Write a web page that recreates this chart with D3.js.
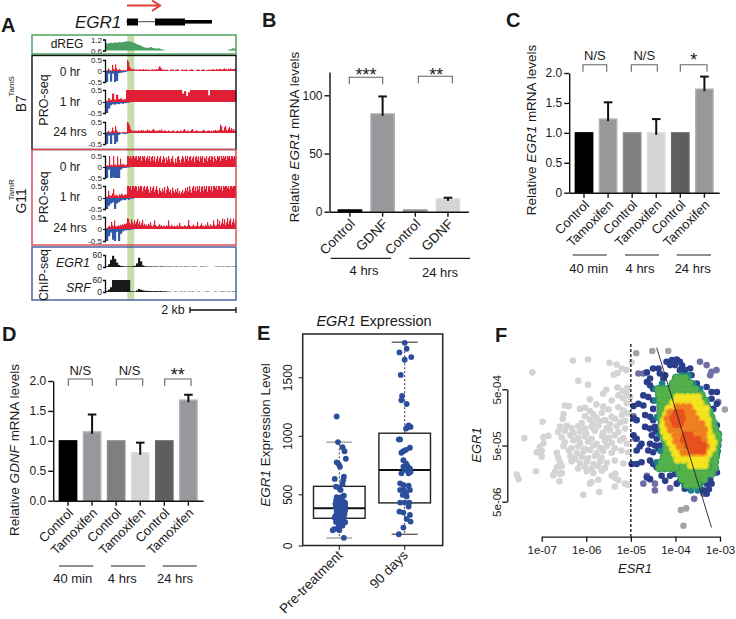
<!DOCTYPE html>
<html>
<head>
<meta charset="utf-8">
<script src="https://cdn.jsdelivr.net/npm/d3@7"></script>
<style>
  body { margin: 0; background: #fff; }
  text { font-family: "Liberation Sans", Arial, sans-serif; fill: #1a1a1a; }
  .axis path, .axis line { stroke: #111; }
</style>
</head>
<body>
<svg id="fig" width="736" height="619"></svg>
<script>
// ---- panel A tracks, one value per genomic bin ----
const b7Hr0 = [.02,.05,.12,.04,.03,.02,.28,.1,.05,.3,
  .12,.06,.04,.1,.05,.03,.02,.06,.02,.04,
  .03,.5,.42,.2,.12,.08,.1,.06,.08,.05,
  .07,.04,.06,.08,.05,.07,.06,.09,.05,.06,
  .08,.04,.07,.05,.03,.06,.08,.05,.07,.06,
  .09,.06,.12,.22,.16,.1,.07,.05,.06,.04,
  .07,.05,.02,0,.06,.08,.05,.07,0,.05,
  .06,.08,.05,0,0,.06,.07,.04,.06,.05,
  .07,.04,0,.06,.05,.08,.06,.04,0,0,
  .05,.07,.06,.05,0,.04,.06,.08,.05,0,
  .05,.04,.07,.03,.06,.05,.08,.07,.06,.05,
  .09,.06,.07,.1,.08,.07,.06,.09,.12,.07,
  .08,.06,.1,.07,.12,.08,.09,.07,.1,.08];
const b7Hr1 = [.05,.15,.08,.35,.1,.3,.12,.15,.1,.12,
  .5,.5,.5,.5,.5,.5,.5,.5,.5,.5,
  .5,.5,.5,.5,.5,.5,.5,.5,.5,.5,
  .5,.5,.5,.5,.5,.5,.5,.5,.35,.45,
  .25,.4,.5,.5,.5,.5,.5,.5,.5,.5,
  .5,.28,.5,.5,.5,.5,.5,.5,.5,.5,
  .5,.5,.5,.5,.5];
const b7Hr24 = [.03,.05,.1,.04,.03,.08,.25,.1,.06,.32,
  .14,.06,.03,.05,.02,.02,.03,.06,.02,.03,
  .04,.5,.45,.35,.18,.12,.1,.08,.12,.09,
  .1,.08,.12,.1,.09,.14,.1,.12,.08,.1,
  .11,.16,.1,.12,.09,.1,.14,.18,.11,.1,
  .09,.12,.08,.14,.1,.16,.1,.08,.12,.1,
  .09,.07,.11,.09,.06,.08,.1,.12,.07,.05,
  .09,.11,.08,.06,.12,.09,.07,.13,.18,.1,
  .07,.12,.09,.06,.1,.14,.18,.09,.07,.1,
  .12,.08,.1,.07,.09,.06,.12,.14,.1,.09,
  .07,.1,.12,.09,.08,.11,.06,.12,.1,.14,
  .09,.12,.1,.16,.38,.3,.14,.1,.26,.32,
  .14,.1,.2,.28,.14,.22,.12,.18,.1,.14];
const g11Hr0 = [.05,.08,.06,.5,.08,.1,.07,.5,.1,.12,
  .06,.48,.12,.08,.38,.1,.14,.12,.1,.08,
  .12,.5,.5,.42,.5,.38,.5,.5,.4,.48,
  .5,.32,.5,.44,.5,.28,.5,.45,.5,.3,
  .42,.5,.36,.5,.26,.45,.5,.3,.48,.22,
  .38,.5,.28,.42,.5,.2,.34,.5,.4,.18,
  .44,.3,.5,.36,.22,.4,.5,.25,.16,.38,
  .2,.46,.5,.32,.18,.36,.5,.42,.24,.5,
  .36,.5,.28,.46,.5,.3,.42,.5,.22,.44,
  .5,.34,.48,.26,.5,.4,.5,.2,.44,.36,
  .5,.26,.42,.5,.32,.5,.46,.24,.5,.38,
  .3,.5,.44,.5,.28,.5,.38,.5,.42,.5,
  .32,.5,.46,.5,.36,.5,.5,.4,.5,.46];
const g11Hr1 = [.05,.06,.3,.12,.08,.1,.2,.38,.12,.1,
  .14,.1,.08,.16,.12,.18,.14,.1,.12,.16,
  .14,.5,.5,.46,.5,.34,.5,.5,.42,.5,
  .48,.3,.5,.4,.5,.5,.28,.44,.5,.34,
  .46,.5,.36,.22,.48,.3,.42,.5,.26,.36,
  .5,.34,.18,.42,.3,.24,.4,.28,.46,.2,
  .34,.5,.4,.26,.34,.18,.44,.3,.22,.36,
  .26,.42,.2,.3,.16,.24,.34,.2,.28,.42,
  .3,.46,.26,.5,.34,.22,.44,.5,.3,.48,
  .28,.5,.36,.5,.24,.46,.5,.3,.5,.38,
  .5,.26,.48,.5,.34,.5,.28,.5,.5,.42,
  .5,.34,.5,.5,.4,.5,.3,.5,.46,.5,
  .5,.42,.5,.36,.5,.5,.44,.5,.5,.5];
const g11Hr24 = [.04,.06,.1,.14,.08,.3,.16,.1,.36,.14,
  .1,.12,.16,.12,.18,.14,.2,.16,.22,.2,
  .24,.45,.42,.26,.2,.4,.28,.18,.36,.22,
  .3,.42,.2,.32,.16,.24,.38,.16,.22,.14,
  .18,.12,.22,.16,.28,.14,.1,.18,.36,.16,
  .12,.1,.14,.2,.12,.16,.1,.14,.12,.1,
  .16,.12,.36,.14,.1,.18,.12,.1,.14,.1,
  .12,.16,.1,.26,.14,.1,.12,.1,.16,.12,
  .1,.14,.38,.16,.12,.1,.14,.18,.1,.12,
  .14,.3,.12,.1,.16,.24,.12,.14,.1,.18,
  .12,.28,.16,.1,.2,.12,.14,.36,.18,.12,
  .16,.42,.2,.34,.14,.24,.44,.22,.4,.16,
  .28,.46,.2,.36,.44,.18,.3,.42,.24,.38];
const b7Neg0 = [.5,.12,.48,.12,.5,.45,.1,.08,.06,.05,.02];
const b7Neg1 = [.5,.3,.15,.1,.12,.08,.1,.06,.08,.05,.04,.03];
const b7Neg24 = [.5,.12,.5,.1,.5,.4,.08,.03,.03,.05,.03];
const g11Neg0 = [.5,.12,.5,.48,.5,.5,.5,.12,.05,.04,.03,.02];
const g11Neg1 = [.5,.35,.25,.2,.5,.25,.18,.12,.08,.1,.05,.08,.03,.03];
const g11Neg24 = [.5,.3,.15,.45,.5,.12,.5,.2,.1,.06,.05,.04,.03,.02];
const dregValues = [.98,1.0,1.02,1.0,1.04,1.03,1.05,1.04,1.06,1.08,
  1.1,1.1,1.07,1.04,1.0,.94,.9,.86,.8,.76,
  .74,.76,.78,.74,.72,.7,.72,.68,.64,.61,
  .6,.6,.6,.6,.6,.6,.6,.6,.6,.6,
  .6,.6,.6,.6,.6,.6,.6,.6,.6,.6,
  .6,.6,.6,.6,.6,.6,.6,.6,.6,.6,
  .6,.64,.68,.72,.7];
const chipEgr1 = [4,14,36,56,40,22,10,5,4,3,
  3,3,3,4,6,18,46,28,8,4,
  3,3,3,2,3,2,2,3,2,2,
  2,2,2,1,2,2,1,2,1,2,
  2,1,1,2,2,1,0,2,2,1,
  1,0,0,0,1,2,2,1,2,1,
  2,2,1,2,2];
const chipSrf = [6,12,24,60,60,60,60,60,60,60,
  60,60,4,3,3,8,15,11,8,6,
  6,5,5,4,5,4,4,5,3,4,
  2,2,1,0,2,1,0,2,1,2,
  0,2,1,2,0,1,2,0,0,1,
  2,1,0,0,2,1,0,2,2,1,
  1,2,1,2,2];
const trackTicks = [0.5, 0, -0.5];
const timeLabels = ["0 hr", "1 hr", "24 hrs"];

// ---- panels B, C, D ----
const catsB = ["Control", "GDNF", "Control", "GDNF"];
const valuesB = [1.5, 84, 1.5, 11];
const errTopsB = [null, 99, null, 12];
const ticksB = [0, 50, 100];
const catsCD = ["Control", "Tamoxifen", "Control", "Tamoxifen", "Control", "Tamoxifen"];
const valuesC = [1, 1.23, 1, 1, 1, 1.73];
const errTopsC = [null, 1.51, null, 1.23, null, 1.94];
const valuesD = [1, 1.15, 1, 0.8, 1, 1.68];
const errTopsD = [null, 1.44, null, 0.97, null, 1.77];
const ticksCD = [0, 0.5, 1, 1.5, 2];

// ---- panel E, [jittered group position, expression] ----
const boxCats = ["Pre-treatment", "90 days"];
const boxStats = [
  { lo: 73, q1: 266, med: 364, q3: 568, hi: 946 },
  { lo: 110, q1: 416, med: 707, q3: 1022, hi: 1800 }
];
const boxTicks = [0, 500, 1000, 1500];
const prePoints = [[.96,1165],[.98,946],[1.05,903],[1.08,869],[1.1,804],[.96,773],[1.01,736],[.99,758],[.93,631],[1.07,650],
  [1.06,622],[1.05,588],[.95,565],[1,551],[1.02,537],[1.07,487],[.96,471],[1.03,471],[.95,440],[.99,425],
  [1.06,430],[1.09,415],[.94,405],[1.01,400],[1.05,395],[1.09,385],[.95,375],[1,372],[1.07,365],[1.03,350],
  [1.09,345],[.96,335],[1.05,330],[1,322],[1.08,310],[.97,305],[1.04,300],[.94,290],[1,285],[1.07,280],
  [.93,270],[1.03,265],[.97,255],[1.06,250],[1,240],[.95,230],[1.09,228],[1.04,215],[.99,205],[.92,160],
  [.97,165],[1,150],[1.05,195],[.9,150],[1,175],[1.07,75]];
const dayPoints = [[2,1795],[2.03,1744],[1.92,1713],[2.1,1673],[2,1650],[1.94,1520],[1.96,1340],[1.95,1304],[2.03,1272],[2.06,1088],
  [2.09,1076],[2.04,1071],[2.02,1062],[1.93,969],[1.91,969],[2.08,898],[2.02,880],[1.98,869],[1.95,855],[1.98,792],
  [2.02,764],[2.04,744],[2.08,722],[1.98,736],[2,708],[1.95,679],[2.09,693],[2.06,679],[1.93,594],[1.98,580],
  [2.06,574],[1.93,537],[1.99,537],[2.08,537],[2.02,508],[1.97,494],[2.03,478],[1.93,419],[2,419],[2.07,419],
  [2.06,380],[1.92,331],[1.98,322],[2.08,299],[2.03,260],[2.09,234],[1.98,175],[1.91,110]];

// ---- panel F, points are [log10 ESR1, log10 EGR1], dense layers are rows of [log10 EGR1, ESR1 values] ----
const greyPoints = [[-5.96,-2.77],[-6.3,-2.79],[-4.98,-2.82],[-5.48,-2.83],[-5.32,-2.86],[-5.1,-2.96],[-5.2,-2.93],[-7.21,-3.0],[-5.3,-3.01],[-5.38,-3.04],
  [-6.18,-3.15],[-5.96,-3.22],[-5.55,-3.31],[-5.3,-3.27],[-5.18,-3.33],[-5.08,-3.28],[-5.62,-3.38],[-5.28,-3.41],[-5.1,-3.36],[-5.02,-3.44],
  [-5.92,-3.48],[-5.43,-3.5],[-5.17,-3.46],[-6.48,-3.59],[-6.39,-3.6],[-5.77,-3.57],[-5.62,-3.61],[-5.09,-3.55],[-6.14,-3.65],[-6.03,-3.63],
  [-5.92,-3.69],[-5.5,-3.66],[-5.28,-3.62],[-5.17,-3.68],[-6.51,-3.74],[-6.03,-3.78],[-5.84,-3.75],[-5.65,-3.72],[-5.43,-3.79],[-5.2,-3.76],
  [-5.06,-3.73],[-6.53,-3.83],[-5.92,-3.84],[-5.77,-3.81],[-5.58,-3.85],[-5.36,-3.82],[-5.13,-3.86],[-6.98,-3.88],[-6.1,-3.9],[-5.85,-3.91],
  [-5.69,-3.87],[-5.47,-3.92],[-5.24,-3.89],[-6.59,-3.97],[-6.44,-3.95],[-6.33,-3.99],[-6.18,-3.96],[-6.03,-4.0],[-5.88,-3.97],[-5.73,-3.95],
  [-5.54,-3.99],[-5.32,-3.96],[-5.13,-4.0],[-6.63,-4.06],[-6.48,-4.04],[-6.29,-4.08],[-6.14,-4.05],[-6,-4.09],[-5.81,-4.04],[-5.62,-4.07],
  [-5.47,-4.03],[-5.28,-4.06],[-7.39,-4.17],[-6.96,-4.15],[-6.85,-4.13],[-6.55,-4.16],[-6.36,-4.12],[-6.18,-4.17],[-6.03,-4.14],[-5.88,-4.18],
  [-5.65,-4.13],[-5.5,-4.16],[-5.36,-4.12],[-5.17,-4.17],[-6.96,-4.26],[-6.48,-4.24],[-6.29,-4.21],[-6.14,-4.26],[-5.96,-4.23],[-5.77,-4.27],
  [-5.58,-4.22],[-5.43,-4.25],[-5.24,-4.21],[-5.09,-4.27],[-7.04,-4.33],[-6.51,-4.31],[-6.33,-4.35],[-6.18,-4.32],[-6.03,-4.36],[-5.84,-4.3],
  [-5.69,-4.34],[-5.54,-4.31],[-5.36,-4.35],[-7.11,-4.42],[-7,-4.4],[-6.66,-4.43],[-6.39,-4.39],[-6.21,-4.44],[-6.06,-4.41],[-5.92,-4.38],
  [-5.77,-4.44],[-5.62,-4.4],[-5.43,-4.43],[-5.21,-4.39],[-5.06,-4.42],[-7,-4.5],[-6.63,-4.52],[-6.36,-4.49],[-6.25,-4.54],[-6.1,-4.5],
  [-5.96,-4.53],[-5.81,-4.49],[-5.66,-4.52],[-6.59,-4.6],[-6.33,-4.58],[-6.14,-4.62],[-5.99,-4.59],[-5.84,-4.63],[-5.69,-4.58],[-5.54,-4.61],
  [-5.36,-4.57],[-5.17,-4.62],[-6.66,-4.69],[-6.55,-4.67],[-6.18,-4.71],[-6.03,-4.68],[-5.88,-4.72],[-5.73,-4.67],[-5.58,-4.7],[-7.13,-4.76],
  [-6.7,-4.77],[-6.55,-4.79],[-5.99,-4.76],[-5.84,-4.79],[-5.65,-4.75],[-7.56,-4.82],[-6.74,-4.83],[-6.59,-4.81],[-5.43,-4.84],[-5.35,-4.8],
  [-7.52,-4.9],[-5.73,-4.91],[-5.35,-4.88],[-5.28,-4.92],[-6.6,-4.94],[-5.88,-4.95],[-5.92,-4.98],[-5.13,-4.98],[-5.06,-5.0],[-5.36,-5.03],
  [-5.71,-5.13],[-6.07,-5.18]];
const outlierPoints = [[-4.52,-2.62],[-4.16,-2.62],[-4.88,-2.66],[-2.89,-3.66],[-3.76,-5.42],[-3.88,-5.45],[-3.82,-5.73]];
const palePoints = [[-3.45,-2.81],[-3.3,-2.87],[-3.08,-2.96],[-3.19,-2.99],[-4.83,-3.02],[-4.72,-3.02],[-3.22,-3.05],[-3.04,-3.53],
  [-4.64,-4.84],[-4.72,-4.98],[-4.46,-4.98],[-4.12,-5.06],[-4.46,-5.1],[-3.37,-5.16],[-3.58,-5.25],[-4.94,-3.78],[-4.9,-4.18]];
const navyPoints = [[-4.64,-3.17],[-4.57,-3.23],[-4.5,-3.29],[-4.72,-3.41],[-4.61,-3.44],[-4.5,-3.5],[-4.94,-3.6],[-4.83,-3.56],[-4.72,-3.59],[-4.5,-3.65],
  [-4.94,-3.82],[-4.87,-3.85],[-4.68,-3.76],[-4.57,-3.79],[-4.5,-3.85],[-4.68,-3.97],[-4.57,-4.0],[-4.46,-3.97],[-4.94,-4.12],[-4.87,-4.18],
  [-4.53,-4.12],[-4.42,-4.18],[-4.76,-4.27],[-4.57,-4.27],[-4.46,-4.3],[-4.35,-4.3],[-4.87,-4.39],[-4.61,-4.39],[-4.5,-4.42],[-4.38,-4.36],
  [-4.98,-4.63],[-4.87,-4.63],[-4.76,-4.6],[-4.57,-4.57],[-4.5,-4.63],[-4.42,-4.69],[-4.64,-4.87],[-4.57,-4.9],[-4.31,-4.84],[-4.23,-4.93],
  [-4.12,-4.84],[-4.01,-4.81],[-4.5,-2.93],[-4.38,-2.93],[-4.2,-2.81],[-4.08,-2.78],[-3.97,-2.77],[-4.12,-2.87],[-4.01,-2.87],[-3.9,-2.81],
  [-4.35,-3.02],[-4.23,-3.05],[-3.9,-2.96],[-3.79,-2.96],[-3.67,-2.93],[-3.64,-3.05],[-3.75,-3.08],[-4.27,-3.11],[-4.57,-3.11],[-3.52,-3.2],
  [-3.45,-3.29],[-3.3,-3.26],[-3.19,-3.35],[-3.07,-3.35],[-3.19,-3.47],[-3.07,-3.56],[-3.15,-3.65],[-3.07,-3.94],[-3.11,-4.09],[-3.04,-4.3],
  [-3.07,-4.45],[-3.11,-4.57],[-3.15,-4.69],[-3.07,-4.78],[-3.22,-4.9],[-3.3,-4.98],[-3.19,-4.98],[-3.37,-5.1],[-3.3,-5.16],[-3.67,-5.07],
  [-3.79,-5.07],[-3.97,-4.98],[-3.9,-4.93],[-4.05,-2.82],[-3.85,-2.88],[-4.64,-3.0],[-4.8,-4.32],[-4.44,-4.05],[-3.45,-5.06],[-3.25,-5.08]];
const tealRows = [[-3.05,[-3.85,-3.7]],[-3.2,[-4.3,-3.6]],[-3.3,[-4.45,-3.45]],[-3.5,[-4.45,-3.3]],[-3.8,[-4.42]],
  [-4.1,[-4.35,-3.05]],[-4.4,[-4.33,-3.05]],[-4.6,[-4.42,-3.1]],[-4.8,[-3.9,-3.15]],[-5,[-3.8,-3.45]],[-5.1,[-3.65,-3.5]]];
const greenRows = [
  [-3.1,[-3.98,-3.88,-3.78]],[-3.2,[-4.05,-3.93,-3.8,-3.68]],
  [-3.3,[-4.38,-4.26,-4.14,-4.02,-3.9,-3.78,-3.66,-3.56]],[-3.4,[-4.36,-4.24,-4.12,-4,-3.88,-3.76,-3.64,-3.52,-3.42]],
  [-3.5,[-4.34,-4.22,-4.1,-3.98,-3.5,-3.35]],[-3.6,[-4.33,-4.22,-4.1,-3.42,-3.3]],[-3.7,[-4.33,-4.22,-3.34,-3.24]],
  [-3.8,[-4.33,-4.24,-3.3,-3.2]],[-3.9,[-4.3,-3.26,-3.15]],[-4,[-4.3,-3.24,-3.12]],[-4.1,[-4.26,-4.16,-3.16,-3.05]],
  [-4.2,[-4.24,-4.12,-3.14,-3.05]],[-4.3,[-4.2,-4.08,-3.12,-3.08]],[-4.4,[-4.2,-4.08,-3.96,-3.2,-3.1]],
  [-4.5,[-4.25,-4.12,-4,-3.24,-3.1]],[-4.6,[-4.3,-4.18,-4.06,-3.94,-3.82,-3.25,-3.12]],
  [-4.7,[-4.36,-4.24,-4.12,-4,-3.84,-3.72,-3.6,-3.28,-3.12]],
  [-4.8,[-3.9,-3.78,-3.66,-3.54,-3.42,-3.3,-3.2]],[-4.9,[-3.85,-3.74,-3.62,-3.5,-3.36]],[-5,[-3.74,-3.62,-3.5]]
];
const yellowRows = [
  [-3.45,[-3.95,-3.85,-3.72,-3.6,-3.5]],[-3.55,[-4.05,-3.95,-3.82,-3.7,-3.58,-3.45]],
  [-3.65,[-4.15,-4.05,-3.92,-3.8,-3.68,-3.55,-3.42,-3.32]],[-3.75,[-4.2,-4.08,-3.95,-3.82,-3.7,-3.58,-3.45,-3.33]],
  [-3.85,[-4.25,-4.12,-4,-3.88,-3.75,-3.62,-3.5,-3.38,-3.28]],[-3.95,[-4.27,-4.15,-4.02,-3.9,-3.78,-3.65,-3.52,-3.4,-3.28]],
  [-4.05,[-4.25,-4.12,-4,-3.88,-3.75,-3.62,-3.5,-3.38,-3.26]],[-4.15,[-4.2,-4.08,-3.95,-3.82,-3.7,-3.58,-3.45,-3.32,-3.2]],
  [-4.25,[-4.12,-4,-3.88,-3.75,-3.62,-3.5,-3.38,-3.25,-3.15]],[-4.35,[-4.05,-3.92,-3.8,-3.68,-3.55,-3.42,-3.3,-3.18]],
  [-4.45,[-4,-3.88,-3.75,-3.62,-3.5,-3.38,-3.26]],[-4.55,[-3.95,-3.82,-3.7,-3.58,-3.45,-3.33]],[-4.65,[-3.65,-3.52,-3.42,-3.35]]
];
const orangeRows = [
  [-3.62,[-3.95,-3.82,-3.7]],[-3.72,[-4.12,-4,-3.88,-3.75,-3.62]],[-3.82,[-4.18,-4.05,-3.92,-3.8,-3.68,-3.55]],
  [-3.92,[-4.15,-4.02,-3.9,-3.78,-3.65,-3.52,-3.42]],[-4.02,[-4.1,-3.98,-3.85,-3.72,-3.6,-3.48,-3.36]],
  [-4.12,[-4,-3.88,-3.75,-3.62,-3.5,-3.38]],[-4.22,[-3.98,-3.85,-3.72,-3.6,-3.48,-3.36]],
  [-4.32,[-3.9,-3.78,-3.65,-3.52,-3.4,-3.32]],[-4.42,[-3.82,-3.7,-3.58,-3.45,-3.38]]
];
const redRows = [
  [-3.72,[-3.98,-3.88]],[-3.82,[-4.05,-3.95,-3.85]],[-3.92,[-4,-3.9]],[-4.12,[-3.78,-3.68]],
  [-4.2,[-3.82,-3.72,-3.6,-3.5]],[-4.3,[-3.72,-3.6,-3.48,-3.38]],[-4.38,[-3.62,-3.5,-3.4]]
];
const fitLine = [[-4.42, -2.56], [-3.19, -5.76]];
const esrTicks = [1e-7, 1e-6, 1e-5, 1e-4, 1e-3];
const esrLabels = ["1e-07", "1e-06", "1e-05", "1e-04", "1e-03"];
const egrTicks = [5e-6, 5e-5, 5e-4];
const egrLabels = ["5e-06", "5e-05", "5e-04"];

const svg = d3.select("#fig");

// helper for labels with italic gene names: parts = [[text, italic], ...]
function label(g, x, y, parts, size, opt = {}) {
  const t = g.append("text")
    .attr("font-size", size)
    .attr("text-anchor", opt.anchor || "middle")
    .attr("font-weight", opt.bold ? "bold" : null)
    .attr("transform", `translate(${x},${y}) rotate(${opt.rotate || 0})`);
  parts.forEach(([s, it]) => t.append("tspan").attr("font-style", it ? "italic" : null).text(s));
  return t;
}

[["A", 1, 32], ["B", 262, 27], ["C", 506, 27], ["D", 2, 341], ["E", 257, 340], ["F", 495, 342]]
  .forEach(([s, x, y]) => label(svg, x, y, [[s]], 20, { anchor: "start", bold: true }));

// ---------- panel A ----------
function panelA() {
  const g = svg.append("g");
  const xStart = 106, xEnd = 236, fullBins = 65;

  // highlighted TSS band goes under the tracks
  g.append("rect").attr("x", 127.3).attr("y", 35).attr("width", 7).attr("height", 265).attr("fill", "#c6dea8");

  // a track with n bins across the whole window
  function bars(vals, y, color, n) {
    const binX = d3.scaleLinear().domain([0, n]).range([xStart, xEnd]);
    g.append("g").selectAll("rect").data(vals).join("rect")
      .attr("x", (d, i) => binX(i))
      .attr("width", binX(1) - binX(0) + 0.2)
      .attr("y", d => Math.min(y(d.v), y(d.base)))
      .attr("height", d => Math.abs(y(d.v) - y(d.base)))
      .attr("fill", color);
  }
  function yAxis(y, ticks, size) {
    const a = g.append("g").attr("class", "axis").attr("transform", "translate(105,0)")
      .call(d3.axisLeft(y).tickValues(ticks).tickFormat(d => String(d)).tickSize(2).tickPadding(1));
    a.selectAll("path").attr("stroke-width", 1.3);
    a.selectAll("text").attr("font-size", size).style("font-family", "Liberation Sans");
  }

  // gene model
  g.append("text").attr("x", 75).attr("y", 28).attr("font-size", 17).attr("font-style", "italic").text("EGR1");
  g.append("line").attr("x1", 126).attr("x2", 212).attr("y1", 21.7).attr("y2", 21.7).attr("stroke", "#444");
  g.append("rect").attr("x", 127).attr("y", 18.5).attr("width", 11).attr("height", 7);
  g.append("rect").attr("x", 155).attr("y", 18.5).attr("width", 30).attr("height", 7);
  g.append("rect").attr("x", 185).attr("y", 20).attr("width", 27).attr("height", 3.6);
  g.append("path").attr("d", "M127,5.5H158M152,0.5L160,5.5L152,11").attr("fill", "none").attr("stroke", "#e0403a").attr("stroke-width", 2);

  // dREG
  const yD = d3.scaleLinear().domain([0.6, 1.2]).range([50.5, 39.5]);
  bars(dregValues.map(v => ({ v, base: 0.6 })), yD, "#4a9f63", fullBins);
  yAxis(yD, [0.6, 1.2], 8);
  label(g, 67, 48, [["dREG"]], 12);

  // PRO-seq rows
  const rows = [
    { top: 60, mid: 71, bot: 82, pos: b7Hr0, neg: b7Neg0, name: 0, ty: 76 },
    { top: 90, mid: 102, bot: 113, pos: b7Hr1, neg: b7Neg1, name: 1, ty: 106 },
    { top: 122, mid: 133, bot: 144, pos: b7Hr24, neg: b7Neg24, name: 2, ty: 136 },
    { top: 156, mid: 167, bot: 178, pos: g11Hr0, neg: g11Neg0, name: 0, ty: 171 },
    { top: 186, mid: 198, bot: 209, pos: g11Hr1, neg: g11Neg1, name: 1, ty: 201 },
    { top: 217, mid: 229, bot: 241, pos: g11Hr24, neg: g11Neg24, name: 2, ty: 232 }
  ];
  rows.forEach(r => {
    const y = d3.scaleLinear().domain([-0.5, 0, 0.5]).range([r.bot, r.mid, r.top]);
    bars(r.pos.map(v => ({ v, base: 0 })), y, "#e01f35", r.pos.length);
    bars(r.neg.map(v => ({ v: -v, base: 0 })), y, "#3358a8", fullBins);
    yAxis(y, trackTicks, 8);
    label(g, 70, r.ty, [[timeLabels[r.name]]], 12);
  });

  // ChIP rows
  const yE = d3.scaleLinear().domain([0, 60]).range([267, 255]);
  bars(chipEgr1.map(v => ({ v, base: 0 })), yE, "#1a1a1a", fullBins);
  yAxis(yE, [0, 60], 8.5);
  const yS = d3.scaleLinear().domain([0, 60]).range([292, 280]);
  bars(chipSrf.map(v => ({ v, base: 0 })), yS, "#1a1a1a", fullBins);
  yAxis(yS, [0, 60], 8.5);
  label(g, 90, 267, [["EGR1", true]], 12.5, { anchor: "end" });
  label(g, 91, 292, [["SRF", true]], 12.5, { anchor: "end" });

  // frames
  [[35, 19, "#3f9f55"], [55.5, 94, "#111"], [149.5, 95.5, "#d8464f"], [247, 53, "#3f5c9e"]].forEach(([y, h, c]) =>
    g.append("rect").attr("x", 32).attr("y", y).attr("width", 204).attr("height", h)
      .attr("fill", "none").attr("stroke", c).attr("stroke-width", 1.4));

  label(g, 48, 100, [["PRO-seq"]], 12.5, { rotate: -90 });
  label(g, 48, 197, [["PRO-seq"]], 12.5, { rotate: -90 });
  label(g, 48, 275, [["ChIP-seq"]], 12.5, { rotate: -90 });
  label(g, 26, 103.7, [["B7"]], 14, { rotate: -90 });
  label(g, 14, 86.3, [["TamS"]], 8, { rotate: -90 });
  label(g, 26, 200.8, [["G11"]], 14, { rotate: -90 });
  label(g, 14, 189.7, [["TamR"]], 8, { rotate: -90 });

  label(g, 173, 314, [["2 kb"]], 12.5);
  g.append("path").attr("d", "M190,307V313M190,310H236M236,307V313").attr("fill", "none").attr("stroke", "#111").attr("stroke-width", 1.3);
}

// ---------- bar panels ----------
function barPanel(o) {
  const g = svg.append("g");
  const x = d3.scaleBand().domain(d3.range(o.values.length)).range([o.left, o.right]).padding(o.pad);
  const y = d3.scaleLinear().domain(o.domain).range(o.range);

  g.selectAll("rect.bar").data(o.values).join("rect")
    .attr("class", "bar")
    .attr("x", (d, i) => x(i) + 0.6)
    .attr("width", x.bandwidth() - 1.2)
    .attr("y", d => y(d))
    .attr("height", d => y(0) - y(d))
    .attr("fill", (d, i) => o.fills[i])
    .attr("stroke", (d, i) => o.edges[i])
    .attr("stroke-width", 1.4);

  // only the upper half of each error bar is drawn
  o.errs.forEach((e, i) => {
    if (e === null) return;
    const cx = x(i) + x.bandwidth() / 2;
    g.append("line").attr("x1", cx).attr("x2", cx).attr("y1", y(o.values[i]) + 2).attr("y2", y(e)).attr("stroke", "#111").attr("stroke-width", 2);
    g.append("line").attr("x1", cx - 4.3).attr("x2", cx + 4.3).attr("y1", y(e)).attr("y2", y(e)).attr("stroke", "#111").attr("stroke-width", 2);
  });

  const ya = g.append("g").attr("class", "axis").attr("transform", `translate(${o.left},0)`)
    .call(d3.axisLeft(y).tickValues(o.ticks).tickFormat(o.fmt).tickSize(5).tickSizeOuter(0).tickPadding(2));
  ya.selectAll("path,line").attr("stroke-width", 1.4);
  ya.selectAll("text").attr("font-size", 12).style("font-family", "Liberation Sans");

  const xa = g.append("g").attr("class", "axis").attr("transform", `translate(0,${y(0)})`)
    .call(d3.axisBottom(x).tickFormat("").tickSize(5).tickSizeOuter(0));
  xa.selectAll("path,line").attr("stroke-width", 1.4);

  o.cats.forEach((c, i) => {
    label(g, x(i) + x.bandwidth() / 2 + 6, y(0) + 13, [[c]], o.catSize, { anchor: "end", rotate: -45 });
  });

  label(g, o.yLabelX, o.yLabelY, o.yLabel, 13.5, { rotate: -90 });

  o.brackets.forEach(b => {
    g.append("path").attr("d", `M${b.x1},${b.y + 7}V${b.y}H${b.x2}V${b.y + 7}`)
      .attr("fill", "none").attr("stroke", "#666").attr("stroke-width", 1.1);
    label(g, (b.x1 + b.x2) / 2 + (b.dx || 0), b.ty, [[b.text]], b.size || 13);
  });
  o.groups.forEach(s => {
    g.append("line").attr("x1", s.x1).attr("x2", s.x2).attr("y1", o.groupY).attr("y2", o.groupY).attr("stroke", "#222").attr("stroke-width", 1.2);
    label(g, s.tx, s.ty, [[s.text]], 13);
  });
}

const greyFills = ["#000", "#98989c", "#7f7f7f", "#d4d4d4", "#5e5e5e", "#98989c"];
const greyEdges = ["#000", "#b0b0b2", "#8c8c8c", "#dcdcdc", "#6a6a6a", "#b0b0b2"];
const fmt1 = d => d === 0 ? "0" : d.toFixed(1);

// ---------- panel E ----------
function panelE() {
  const g = svg.append("g");
  const x = d3.scaleLinear().domain([1, 2]).range([339.3, 404.7]);
  // the printed 0 tick sits at the box edge, closer than the 500 spacing
  const y = d3.scaleLinear().domain([0, 500, 1500]).range([545.5, 494.3, 377.3]);

  boxStats.forEach((b, i) => {
    const c = x(i + 1), hw = 25.8, cap = 13;
    g.append("line").attr("x1", c).attr("x2", c).attr("y1", y(b.q3)).attr("y2", y(b.hi)).attr("stroke", "#333").attr("stroke-dasharray", "2,2");
    g.append("line").attr("x1", c).attr("x2", c).attr("y1", y(b.q1)).attr("y2", y(b.lo)).attr("stroke", "#333").attr("stroke-dasharray", "2,2");
    [b.lo, b.hi].forEach(v => g.append("line").attr("x1", c - cap).attr("x2", c + cap).attr("y1", y(v)).attr("y2", y(v)).attr("stroke", i ? "#333" : "#888").attr("stroke-width", 1.1));
    g.append("rect").attr("x", c - hw).attr("width", hw * 2).attr("y", y(b.q3)).attr("height", y(b.q1) - y(b.q3))
      .attr("fill", "none").attr("stroke", "#222").attr("stroke-width", 1.4);
    g.append("line").attr("x1", c - hw).attr("x2", c + hw).attr("y1", y(b.med)).attr("y2", y(b.med)).attr("stroke", "#111").attr("stroke-width", 2);
  });

  g.selectAll("circle").data(prePoints.concat(dayPoints)).join("circle")
    .attr("cx", d => x(d[0])).attr("cy", d => y(d[1])).attr("r", 2.9).attr("fill", "#2a4e9c");

  g.append("rect").attr("x", 302.7).attr("y", 334).attr("width", 140).attr("height", 211.5)
    .attr("fill", "none").attr("stroke", "#222").attr("stroke-width", 1.5);

  const ya = g.append("g").attr("class", "axis").attr("transform", "translate(302.7,0)")
    .call(d3.axisLeft(y).tickValues(boxTicks).tickFormat(d3.format("d")).tickSize(4).tickSizeOuter(0));
  ya.select("path").remove();
  ya.selectAll("text").attr("transform", "rotate(-90)").attr("x", 0).attr("y", -11).attr("dy", 0)
    .attr("text-anchor", "middle").attr("font-size", 12).style("font-family", "Liberation Sans");

  boxCats.forEach((c, i) => {
    const cx = x(i + 1);
    g.append("line").attr("x1", cx).attr("x2", cx).attr("y1", 545.5).attr("y2", 550).attr("stroke", "#111");
    label(g, cx + 4, 556, [[c]], 13.5, { anchor: "end", rotate: -45 });
  });

  label(g, 374, 326, [["EGR1", true], [" Expression"]], 14.5);
  label(g, 270, 435, [["EGR1", true], [" Expression Level"]], 13.5, { rotate: -90 });
}

// ---------- panel F ----------
function panelF() {
  const g = svg.append("g");
  const x = d3.scaleLog().domain([1e-7, 1e-3]).range([541.7, 720]);
  const y = d3.scaleLog().domain([5e-6, 5e-4]).range([501.7, 389.3]);
  const flat = rows => rows.flatMap(([ly, xs]) => xs.map(lx => [lx, ly]));

  const layers = [
    [greyPoints, "#d4d4d4"], [outlierPoints, "#a3a3a6"], [palePoints, "#6f6fa6"], [navyPoints, "#2b3e8c"], [flat(tealRows), "#1f7f88"],
    [flat(greenRows), "#2f9a6a", 1.2], [flat(greenRows), "#55b04a"],
    [flat(yellowRows), "#b4d235", 1.6], [flat(yellowRows), "#f5e31f"],
    [flat(orangeRows), "#f7b21d", 1.6], [flat(orangeRows), "#ef7d22"],
    [flat(redRows), "#e9501f", 0.6]
  ];
  layers.forEach(([pts, color, extra]) => {
    g.append("g").selectAll("circle").data(pts).join("circle")
      .attr("cx", d => x(10 ** d[0])).attr("cy", d => y(10 ** d[1]))
      .attr("r", 3.3 + (extra || 0)).attr("fill", color);
  });

  g.append("line").attr("x1", x(1e-5)).attr("x2", x(1e-5)).attr("y1", 344).attr("y2", 536.7)
    .attr("stroke", "#111").attr("stroke-width", 1.3).attr("stroke-dasharray", "3,2");
  g.append("line")
    .attr("x1", x(10 ** fitLine[0][0])).attr("y1", y(10 ** fitLine[0][1]))
    .attr("x2", x(10 ** fitLine[1][0])).attr("y2", y(10 ** fitLine[1][1]))
    .attr("stroke", "#222").attr("stroke-width", 0.9);

  const xa = g.append("g").attr("class", "axis").attr("transform", "translate(0,536.7)")
    .call(d3.axisBottom(x).tickValues(esrTicks).tickFormat((d, i) => esrLabels[i]).tickSize(5).tickSizeOuter(0).tickPadding(4));
  xa.selectAll("path,line").attr("stroke-width", 1.3);
  xa.selectAll("text").attr("font-size", 11.5).style("font-family", "Liberation Sans");

  const ya = g.append("g").attr("class", "axis").attr("transform", "translate(507.3,0)")
    .call(d3.axisLeft(y).tickValues(egrTicks).tickFormat((d, i) => egrLabels[i]).tickSize(5).tickSizeOuter(0));
  ya.selectAll("path,line").attr("stroke-width", 1.3);
  ya.selectAll("text").attr("transform", "rotate(-90)").attr("x", 0).attr("y", -6).attr("dy", 0)
    .attr("text-anchor", "middle").attr("font-size", 11.5).style("font-family", "Liberation Sans");

  label(g, 635, 573, [["ESR1", true]], 13);
  label(g, 481, 445, [["EGR1", true]], 13, { rotate: -90 });
}

panelA();

barPanel({
  left: 329.5, right: 468.4, pad: 0.25, domain: [0, 120], range: [211.7, 72],
  values: valuesB, errs: errTopsB, cats: catsB, catSize: 13.5, ticks: ticksB, fmt: d3.format("d"),
  fills: ["#000", "#98989c", "#8a8a8a", "#d4d4d4"], edges: ["#000", "#b0b0b2", "#999", "#dcdcdc"],
  yLabelX: 299, yLabelY: 137, yLabel: [["Relative "], ["EGR1", true], [" mRNA levels"]],
  brackets: [
    { x1: 349.3, x2: 382.7, y: 77.3, ty: 81, text: "***", size: 18 },
    { x1: 418.3, x2: 452.3, y: 76.3, ty: 80.5, text: "**", size: 18, dx: 1 }
  ],
  groupY: 258.3,
  groups: [
    { x1: 330.7, x2: 391, tx: 364, ty: 274.7, text: "4 hrs" },
    { x1: 409.3, x2: 470, tx: 440, ty: 276.7, text: "24 hrs" }
  ]
});

barPanel({
  left: 569.2, right: 719.2, pad: 0.23, domain: [0, 2], range: [192.7, 73],
  values: valuesC, errs: errTopsC, cats: catsCD, catSize: 13, ticks: ticksCD, fmt: fmt1,
  fills: greyFills, edges: greyEdges,
  yLabelX: 536, yLabelY: 130, yLabel: [["Relative "], ["EGR1", true], [" mRNA levels"]],
  brackets: [
    { x1: 583, x2: 606.7, y: 64.7, ty: 60, text: "N/S" },
    { x1: 631.3, x2: 657.3, y: 64.7, ty: 60, text: "N/S" },
    { x1: 680.3, x2: 707, y: 64.7, ty: 66, text: "*", size: 18 }
  ],
  groupY: 255,
  groups: [
    { x1: 572.7, x2: 606.7, tx: 588.7, ty: 273, text: "40 min" },
    { x1: 625, x2: 659, tx: 640, ty: 273, text: "4 hrs" },
    { x1: 676.7, x2: 711, tx: 692.7, ty: 273, text: "24 hrs" }
  ]
});

barPanel({
  left: 53.2, right: 203.2, pad: 0.23, domain: [0, 2], range: [500.7, 381],
  values: valuesD, errs: errTopsD, cats: catsCD, catSize: 13, ticks: ticksCD, fmt: d => d.toFixed(1),
  fills: greyFills, edges: greyEdges,
  yLabelX: 19, yLabelY: 450, yLabel: [["Relative "], ["GDNF", true], [" mRNA levels"]],
  brackets: [
    { x1: 68.3, x2: 92.3, y: 379, ty: 375, text: "N/S" },
    { x1: 116.3, x2: 142.7, y: 379, ty: 375, text: "N/S" },
    { x1: 164.7, x2: 191, y: 379, ty: 381, text: "**", size: 18 }
  ],
  groupY: 566,
  groups: [
    { x1: 59, x2: 93.3, tx: 72.7, ty: 583, text: "40 min" },
    { x1: 111, x2: 145.3, tx: 122.3, ty: 583, text: "4 hrs" },
    { x1: 162.7, x2: 196.7, tx: 175, ty: 583, text: "24 hrs" }
  ]
});

panelE();
panelF();
</script>
</body>
</html>
